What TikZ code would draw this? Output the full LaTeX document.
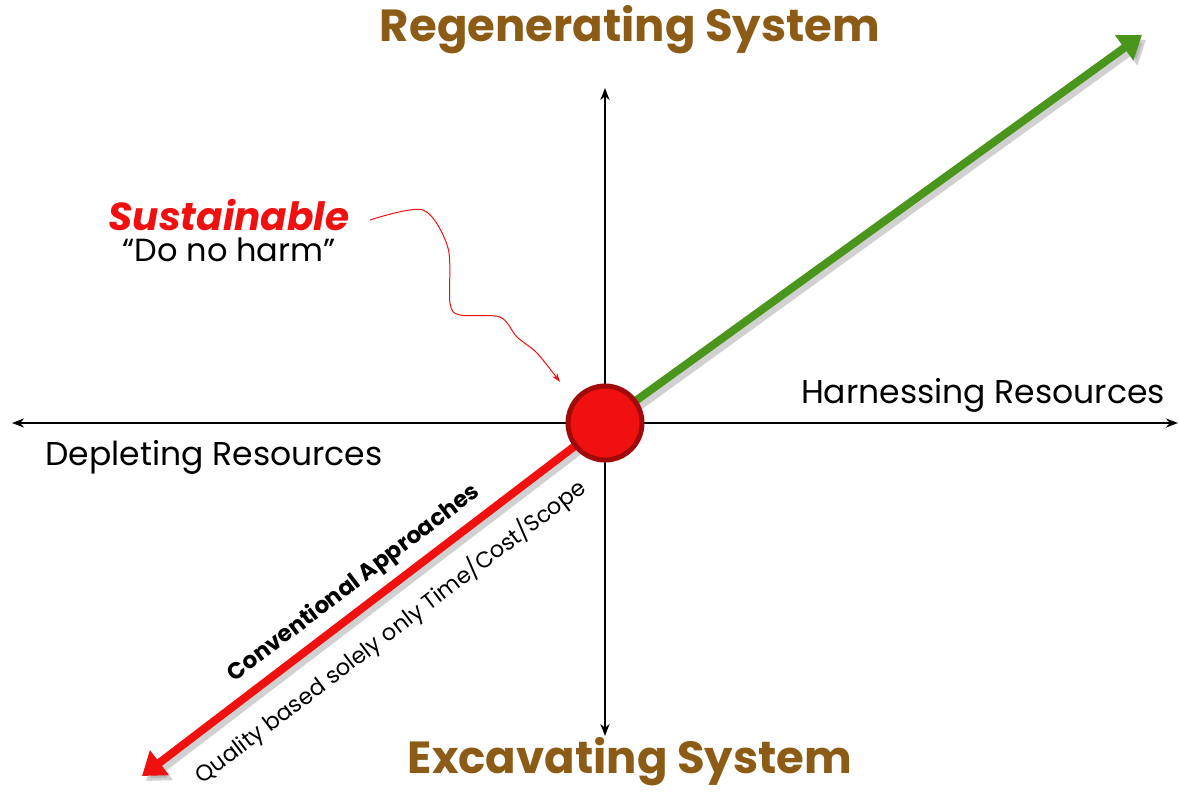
\documentclass[tikz,border=0pt]{standalone}
\usepackage{fontspec}
\setmainfont{Poppins}
\usetikzlibrary{arrows.meta, positioning}
\definecolor{sysbrown}{RGB}{140,92,22}
\definecolor{growgreen}{RGB}{74,150,28}
\definecolor{hotred}{RGB}{240,16,16}
\definecolor{darkred}{RGB}{160,10,10}

\begin{document}
\begin{tikzpicture}[x=1pt,y=-1pt,
    axis/.style={line width=2.4pt,{Stealth[length=12pt,width=9pt]}-{Stealth[length=12pt,width=9pt]}},
    bigarrow/.style={line width=8pt,-{Triangle[length=22pt,width=30pt]}},
    shade/.style={bigarrow,black!40,opacity=0.45},
    title/.style={font=\fontsize{45}{50}\selectfont\bfseries,text=sysbrown},
    axlabel/.style={font=\fontsize{33}{38}\selectfont}]
  \useasboundingbox (0,0) rectangle (1179,793);

  \coordinate (c) at (605,423);
  \coordinate (left) at (12,423);
  \coordinate (right) at (1178,423);
  \coordinate (top) at (605,88);
  \coordinate (bot) at (605,736);
  \coordinate (g) at (1142,35);
  \coordinate (r) at (142,776);

  % axes
  \draw[axis] (left) -- (right);
  \draw[axis] (top) -- (bot);

  % growth and decline
  \draw[shade] ([shift={(4,5)}]c) -- ([shift={(4,5)}]g);
  \draw[shade] ([shift={(4,5)}]c) -- ([shift={(4,5)}]r);
  \draw[bigarrow,growgreen] (c) -- (g);
  \draw[bigarrow,hotred] (c) -- (r)
    node[pos=0.51,sloped,above=5pt,text=black,font=\fontsize{23}{26}\selectfont\bfseries] (conv) {Conventional Approaches}
    node[pos=0.51,sloped,below=15pt,text=black,font=\fontsize{22.5}{26}\selectfont] (qual) {Quality based solely only Time/Cost/Scope};

  \node[circle,fill=hotred,draw=darkred,line width=5pt,minimum size=74pt] (o) at (c) {};

  \node[title] (regen) at (630,30) {Regenerating System};
  \node[title] (excav) at (630,762) {Excavating System};
  \node[axlabel] (harn) at (983,395) {Harnessing Resources};
  \node[axlabel] (depl) at (214,457) {Depleting Resources};

  \node[font=\fontsize{39}{44}\selectfont\bfseries\itshape,text=hotred] (sust) at (229,215) {Sustainable};
  \node[font=\fontsize{32}{36}\selectfont] (harm) [below=0pt of sust] {“Do no harm”};
  \draw[hotred,line width=1pt,-{Stealth[length=9pt,width=6pt]}] plot[smooth] coordinates
    {(370,220) (423,210) (448,248) (450,303) (460,315) (500,317) (517,337) (537,353) (560,382)};
\end{tikzpicture}
\end{document}
